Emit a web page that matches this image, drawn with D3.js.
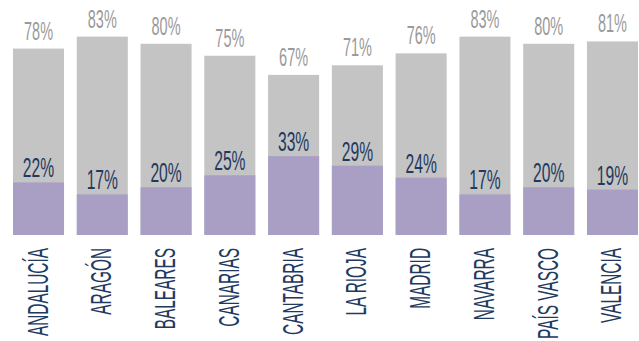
<!DOCTYPE html>
<html><head><meta charset="utf-8">
<script src="https://cdn.jsdelivr.net/npm/d3@7"></script>
<style>body{margin:0;background:#fff;}svg{display:block;}</style>
</head><body>
<svg id="c" width="639" height="341"></svg>
<script>
const categories = ["ANDALUCÍA","ARAGÓN","BALEARES","CANARIAS","CANTABRIA","LA RIOJA","MADRID","NAVARRA","PAÍS VASCO","VALENCIA"];
const grayValues = [78,83,80,75,67,71,76,83,80,81];
const purpleValues = [22,17,20,25,33,29,24,17,20,19];

const svg = d3.select("#c");
const font = "'Liberation Sans Narrow','Liberation Sans','DejaVu Sans Condensed',sans-serif";
const x = d3.scaleBand().domain(categories).range([13,638]).paddingInner(0.2).paddingOuter(0);
const y = d3.scaleLinear().domain([0,100]).range([235,-4]);

const g = svg.append("g");
g.selectAll("rect.gray").data(categories).join("rect").attr("class","gray")
  .attr("x",d=>x(d)).attr("width",x.bandwidth())
  .attr("y",(d,i)=>y(grayValues[i])).attr("height",(d,i)=>y(0)-y(grayValues[i]))
  .attr("fill","#c4c4c4");
g.selectAll("rect.purple").data(categories).join("rect").attr("class","purple")
  .attr("x",d=>x(d)).attr("width",x.bandwidth())
  .attr("y",(d,i)=>y(purpleValues[i])).attr("height",(d,i)=>y(0)-y(purpleValues[i]))
  .attr("fill","#a99fc4");

// measure helper for horizontal compression
function measure(txt, size, weight){
  const t = svg.append("text").attr("font-family",font).attr("font-size",size)
    .attr("font-weight",weight||"normal").text(txt);
  const w = t.node().getComputedTextLength(); t.remove(); return w;
}
const numSx = 29 / measure("78%", 25);
const catSx = 87 / measure("CANTABRIA", 30);

g.selectAll("text.gl").data(categories).join("text").attr("class","gl")
  .attr("transform",(d,i)=>`translate(${x(d)+x.bandwidth()/2},${y(grayValues[i])-9}) scale(${numSx},1)`)
  .attr("text-anchor","middle").attr("font-family",font).attr("font-size",25)
  .attr("fill","#9a9a9a").text((d,i)=>grayValues[i]+"%");
g.selectAll("text.pl").data(categories).join("text").attr("class","pl")
  .attr("transform",(d,i)=>`translate(${x(d)+x.bandwidth()/2},${y(purpleValues[i])-5}) scale(${numSx},1)`)
  .attr("text-anchor","middle").attr("font-family",font).attr("font-size",27)
  .attr("fill","#22395f").text((d,i)=>purpleValues[i]+"%");

const xAxis = d3.axisBottom(x).tickSize(0).tickPadding(0);
const ax = svg.append("g").call(xAxis);
ax.select(".domain").remove();
ax.selectAll(".tick text")
  .attr("font-family",font).attr("font-size",30).attr("fill","#22395f")
  .attr("text-anchor","end").attr("dy",null).attr("y",null)
  .attr("transform",`translate(9,248) rotate(-90) scale(${catSx},1)`);
</script>
</body></html>
